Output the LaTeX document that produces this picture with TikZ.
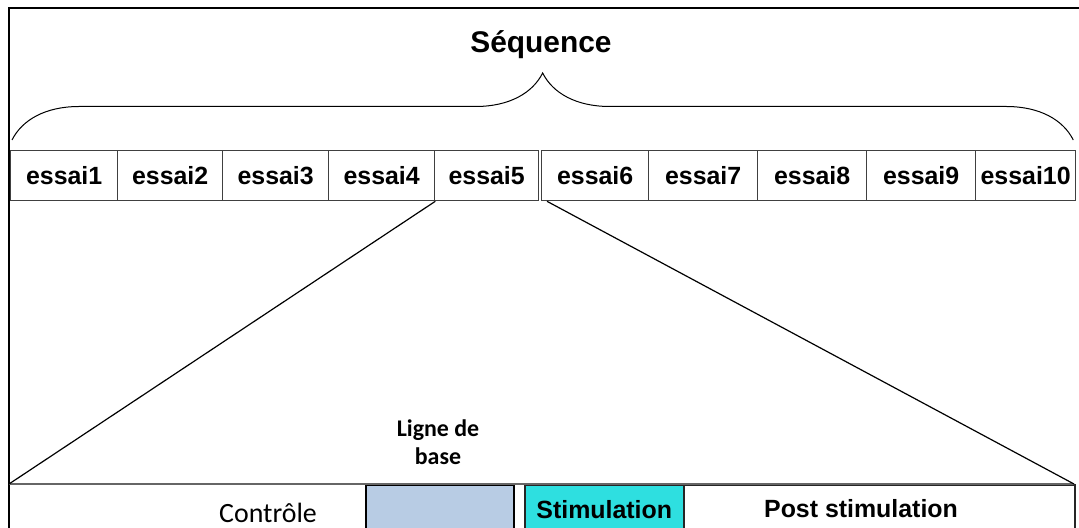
\documentclass[tikz,border=0pt]{standalone}
\usepackage{fontspec}
\setmainfont{Liberation Sans}
\newfontfamily\carlito{Carlito}
\usetikzlibrary{decorations.pathreplacing}
\definecolor{lignebase}{HTML}{B8CCE4}
\definecolor{stimcol}{HTML}{2EDFE0}
\tikzset{essai/.style={draw=black!75, line width=1.3bp, minimum height=50bp, inner sep=0pt,
      anchor=north west, font=\fontsize{25}{30}\selectfont\bfseries},
  phase/.style={draw=black!85, line width=1.5bp, minimum height=50bp, inner sep=0pt,
      anchor=north west, font=\fontsize{25}{30}\selectfont\bfseries}}

\begin{document}
\begin{tikzpicture}[x=1bp, y=-1bp, line width=1.2bp]
    \useasboundingbox (0,0) rectangle (1079,528);
    \draw[line width=1.8bp] (9,560) -- (9,8) -- (1100,8);
    \foreach \i/\xa/\xb in {1/10/117, 2/117/222, 3/222/328, 4/328/434, 5/434/538,
        6/541/648, 7/648/757, 8/757/866, 9/866/975, 10/975/1075}
      \node[essai, minimum width={(\xb-\xa)*1bp}] (e\i) at (\xa,150) {essai\i};
    \draw[decorate, decoration={brace, amplitude=67bp}, line width=1bp]
      ([xshift=2bp,yshift=10bp]e1.north west) -- ([xshift=-3bp,yshift=10bp]e10.north east);
    \node[font=\fontsize{30}{36}\selectfont\bfseries] (seq) at (541,45) {Séquence};
    \coordinate (cg) at (9,484);
    \coordinate (cd) at (1074,484);
    \node[phase, fill=lignebase, draw=black, line width=2bp, minimum width=148bp] (base) at (365,484) {};
    \node[phase, fill=stimcol, minimum width=159bp] (stim) at (524,484) {Stimulation};
    \node[phase, minimum width=391bp] (post) at (683,484) {};
    \node[font=\fontsize{25}{30}\selectfont\bfseries] (posttxt) at (861,509) {Post stimulation};
    \node[font=\carlito\fontsize{28}{32}\selectfont] (ctrl) at (268,513) {Contrôle};
    \node[align=center, font=\carlito\bfseries\fontsize{24}{28}\selectfont] (lbl) at (438,442) {Ligne de\\base};
    \draw[black!60] (cg) -- (cd);
    \draw (e4.south east) -- (cg);
    \draw ([xshift=6bp]e6.south west) -- (cd);
  \end{tikzpicture}
\end{document}
